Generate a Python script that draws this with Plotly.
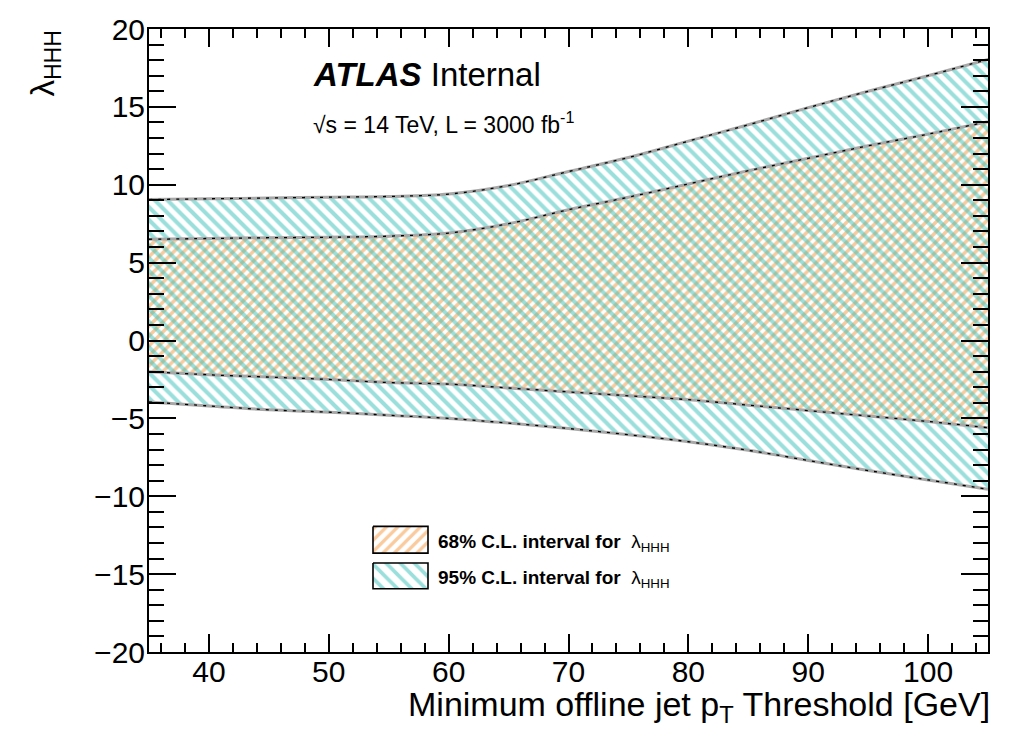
import plotly.graph_objects as go

# Minimum offline jet pT threshold [GeV] and the lambda_HHH interval edges
pt_threshold = [35, 40, 45, 50, 55, 60, 65, 70, 75, 80, 85, 90, 95, 100, 105]
lam_hi_95 = [9.05, 9.10, 9.15, 9.20, 9.25, 9.40, 9.95, 10.85, 11.75, 12.80, 13.85, 14.95, 16.00, 17.00, 18.05]
lam_hi_68 = [6.50, 6.55, 6.60, 6.63, 6.70, 6.90, 7.50, 8.40, 9.20, 10.05, 10.90, 11.70, 12.50, 13.25, 14.05]
lam_lo_68 = [-2.00, -2.20, -2.35, -2.50, -2.70, -2.80, -3.05, -3.30, -3.55, -3.80, -4.15, -4.50, -4.85, -5.20, -5.60]
lam_lo_95 = [-3.95, -4.20, -4.45, -4.60, -4.80, -5.00, -5.30, -5.65, -6.05, -6.50, -7.05, -7.70, -8.35, -8.95, -9.55]

x_tick_vals = [40, 50, 60, 70, 80, 90, 100]
y_tick_vals = [-20, -15, -10, -5, 0, 5, 10, 15, 20]

band_labels = ["68% C.L. interval for", "95% C.L. interval for"]

# Page geometry
W, H = 1010, 730
ML, MR, MT, MB = 149, 22, 22, 78
PW, PH = W - ML - MR, H - MT - MB

FONT = "Liberation Sans, Arial, Helvetica, sans-serif"
ORANGE = "#f4963c"
CYAN = "#35bfb8"
EDGE_GRAY = "#a8a8a8"
NONE = "rgba(0,0,0,0)"


def px(x):
    return (x - ML) / PW


def py(y):
    return (H - MB - y) / PH


fig = go.Figure()

# 68% band (orange "/" hatch)
fig.add_trace(go.Scatter(x=pt_threshold, y=lam_lo_68, mode="lines", line_shape="spline",
                         line=dict(width=0, color=NONE), showlegend=False, hoverinfo="skip"))
fig.add_trace(go.Scatter(x=pt_threshold, y=lam_hi_68, mode="lines", fill="tonexty", line_shape="spline",
                         fillcolor=NONE,
                         fillpattern=dict(shape="/", fgcolor=ORANGE, bgcolor=NONE, size=7, solidity=0.5),
                         line=dict(width=0, color=NONE), showlegend=False, hoverinfo="skip"))
# 95% band (cyan "\" hatch)
fig.add_trace(go.Scatter(x=pt_threshold, y=lam_lo_95, mode="lines", line_shape="spline",
                         line=dict(width=0, color=NONE), showlegend=False, hoverinfo="skip"))
fig.add_trace(go.Scatter(x=pt_threshold, y=lam_hi_95, mode="lines", fill="tonexty", line_shape="spline",
                         fillcolor=NONE,
                         fillpattern=dict(shape="\\", fgcolor=CYAN, bgcolor=NONE, size=9, solidity=0.45),
                         line=dict(width=0, color=NONE), showlegend=False, hoverinfo="skip"))

# Band edges: grey outline with a fine black dash on top
for edge in (lam_hi_95, lam_hi_68, lam_lo_68, lam_lo_95):
    fig.add_trace(go.Scatter(x=pt_threshold, y=edge, mode="lines", line_shape="spline",
                             line=dict(width=3, color=EDGE_GRAY), showlegend=False, hoverinfo="skip"))
for edge in (lam_hi_95, lam_hi_68, lam_lo_68, lam_lo_95):
    fig.add_trace(go.Scatter(x=pt_threshold, y=edge, mode="lines", line_shape="spline",
                             line=dict(width=1.3, color="black", dash="3px,6px"),
                             showlegend=False, hoverinfo="skip"))

# Legend boxes, drawn on an overlay axis measured in pixels from the plot's top-left corner
legend_boxes = [
    dict(x0=373, x1=428, y0=525, y1=552, shape="/", color=ORANGE, size=8, solidity=0.42),
    dict(x0=373, x1=428, y0=562, y1=588, shape="\\", color=CYAN, size=10, solidity=0.38),
]
for box, label in zip(legend_boxes, band_labels):
    bx = [box["x0"] - ML, box["x1"] - ML, box["x1"] - ML, box["x0"] - ML, box["x0"] - ML]
    by = [box["y0"] - MT, box["y0"] - MT, box["y1"] - MT, box["y1"] - MT, box["y0"] - MT]
    fig.add_trace(go.Scatter(x=bx, y=by, xaxis="x2", yaxis="y2", mode="lines", fill="toself",
                             fillcolor=NONE,
                             fillpattern=dict(shape=box["shape"], fgcolor=box["color"], bgcolor=NONE,
                                              size=box["size"], solidity=box["solidity"]),
                             line=dict(width=1.6, color="black"), showlegend=False, hoverinfo="skip"))
    fig.add_annotation(text="<b>" + label + "</b>&nbsp;&nbsp;λ<sub>HHH</sub>",
                       xref="paper", yref="paper", x=px(436), y=py((box["y0"] + box["y1"]) / 2 + 3),
                       xanchor="left", yanchor="middle", showarrow=False,
                       font=dict(family=FONT, size=19, color="black"))

axis_common = dict(
    showline=True, linecolor="black", linewidth=2, mirror="ticks",
    ticks="inside", tickcolor="black", tickwidth=1.5,
    showgrid=False, zeroline=False,
    tickfont=dict(family=FONT, size=30, color="black"),
)

fig.update_layout(
    width=W, height=H,
    margin=dict(l=ML, r=MR, t=MT, b=MB, pad=0),
    paper_bgcolor="white", plot_bgcolor="white",
    showlegend=False,
    xaxis=dict(range=[35, 105], tickvals=x_tick_vals, ticklen=18, ticklabelstandoff=-8,
               minor=dict(dtick=2, tick0=0, ticklen=9, ticks="inside", tickcolor="black", tickwidth=1.5),
               **axis_common),
    yaxis=dict(range=[-20, 20], tickvals=y_tick_vals, ticklen=27, ticklabelstandoff=-4,
               minor=dict(dtick=1, tick0=0, ticklen=15, ticks="inside", tickcolor="black", tickwidth=1.5),
               **axis_common),
    xaxis2=dict(range=[0, PW], overlaying="x", anchor="y2", visible=False, fixedrange=True),
    yaxis2=dict(range=[PH, 0], overlaying="y", anchor="x2", visible=False, fixedrange=True),
)

# Axis titles
fig.add_annotation(text="Minimum offline jet p<sub>T</sub> Threshold [GeV]",
                   xref="paper", yref="paper", x=px(992), y=py(683),
                   xanchor="right", yanchor="top", showarrow=False,
                   font=dict(family=FONT, size=34, color="black"))
fig.add_annotation(text="λ<sub>HHH</sub>", textangle=-90,
                   xref="paper", yref="paper", x=px(45), y=py(57),
                   xanchor="center", yanchor="middle", showarrow=False,
                   font=dict(family=FONT, size=33, color="black"))

# Experiment label
fig.add_annotation(text="<b><i>ATLAS</i></b> Internal",
                   xref="paper", yref="paper", x=px(311), y=py(68),
                   xanchor="left", yanchor="middle", showarrow=False,
                   font=dict(family=FONT, size=33, color="black"))
fig.add_annotation(text="√s = 14 TeV, L = 3000 fb<sup>-1</sup>",
                   xref="paper", yref="paper", x=px(311), y=py(117),
                   xanchor="left", yanchor="middle", showarrow=False,
                   font=dict(family=FONT, size=23, color="black"))

fig.write_html("out.html")
